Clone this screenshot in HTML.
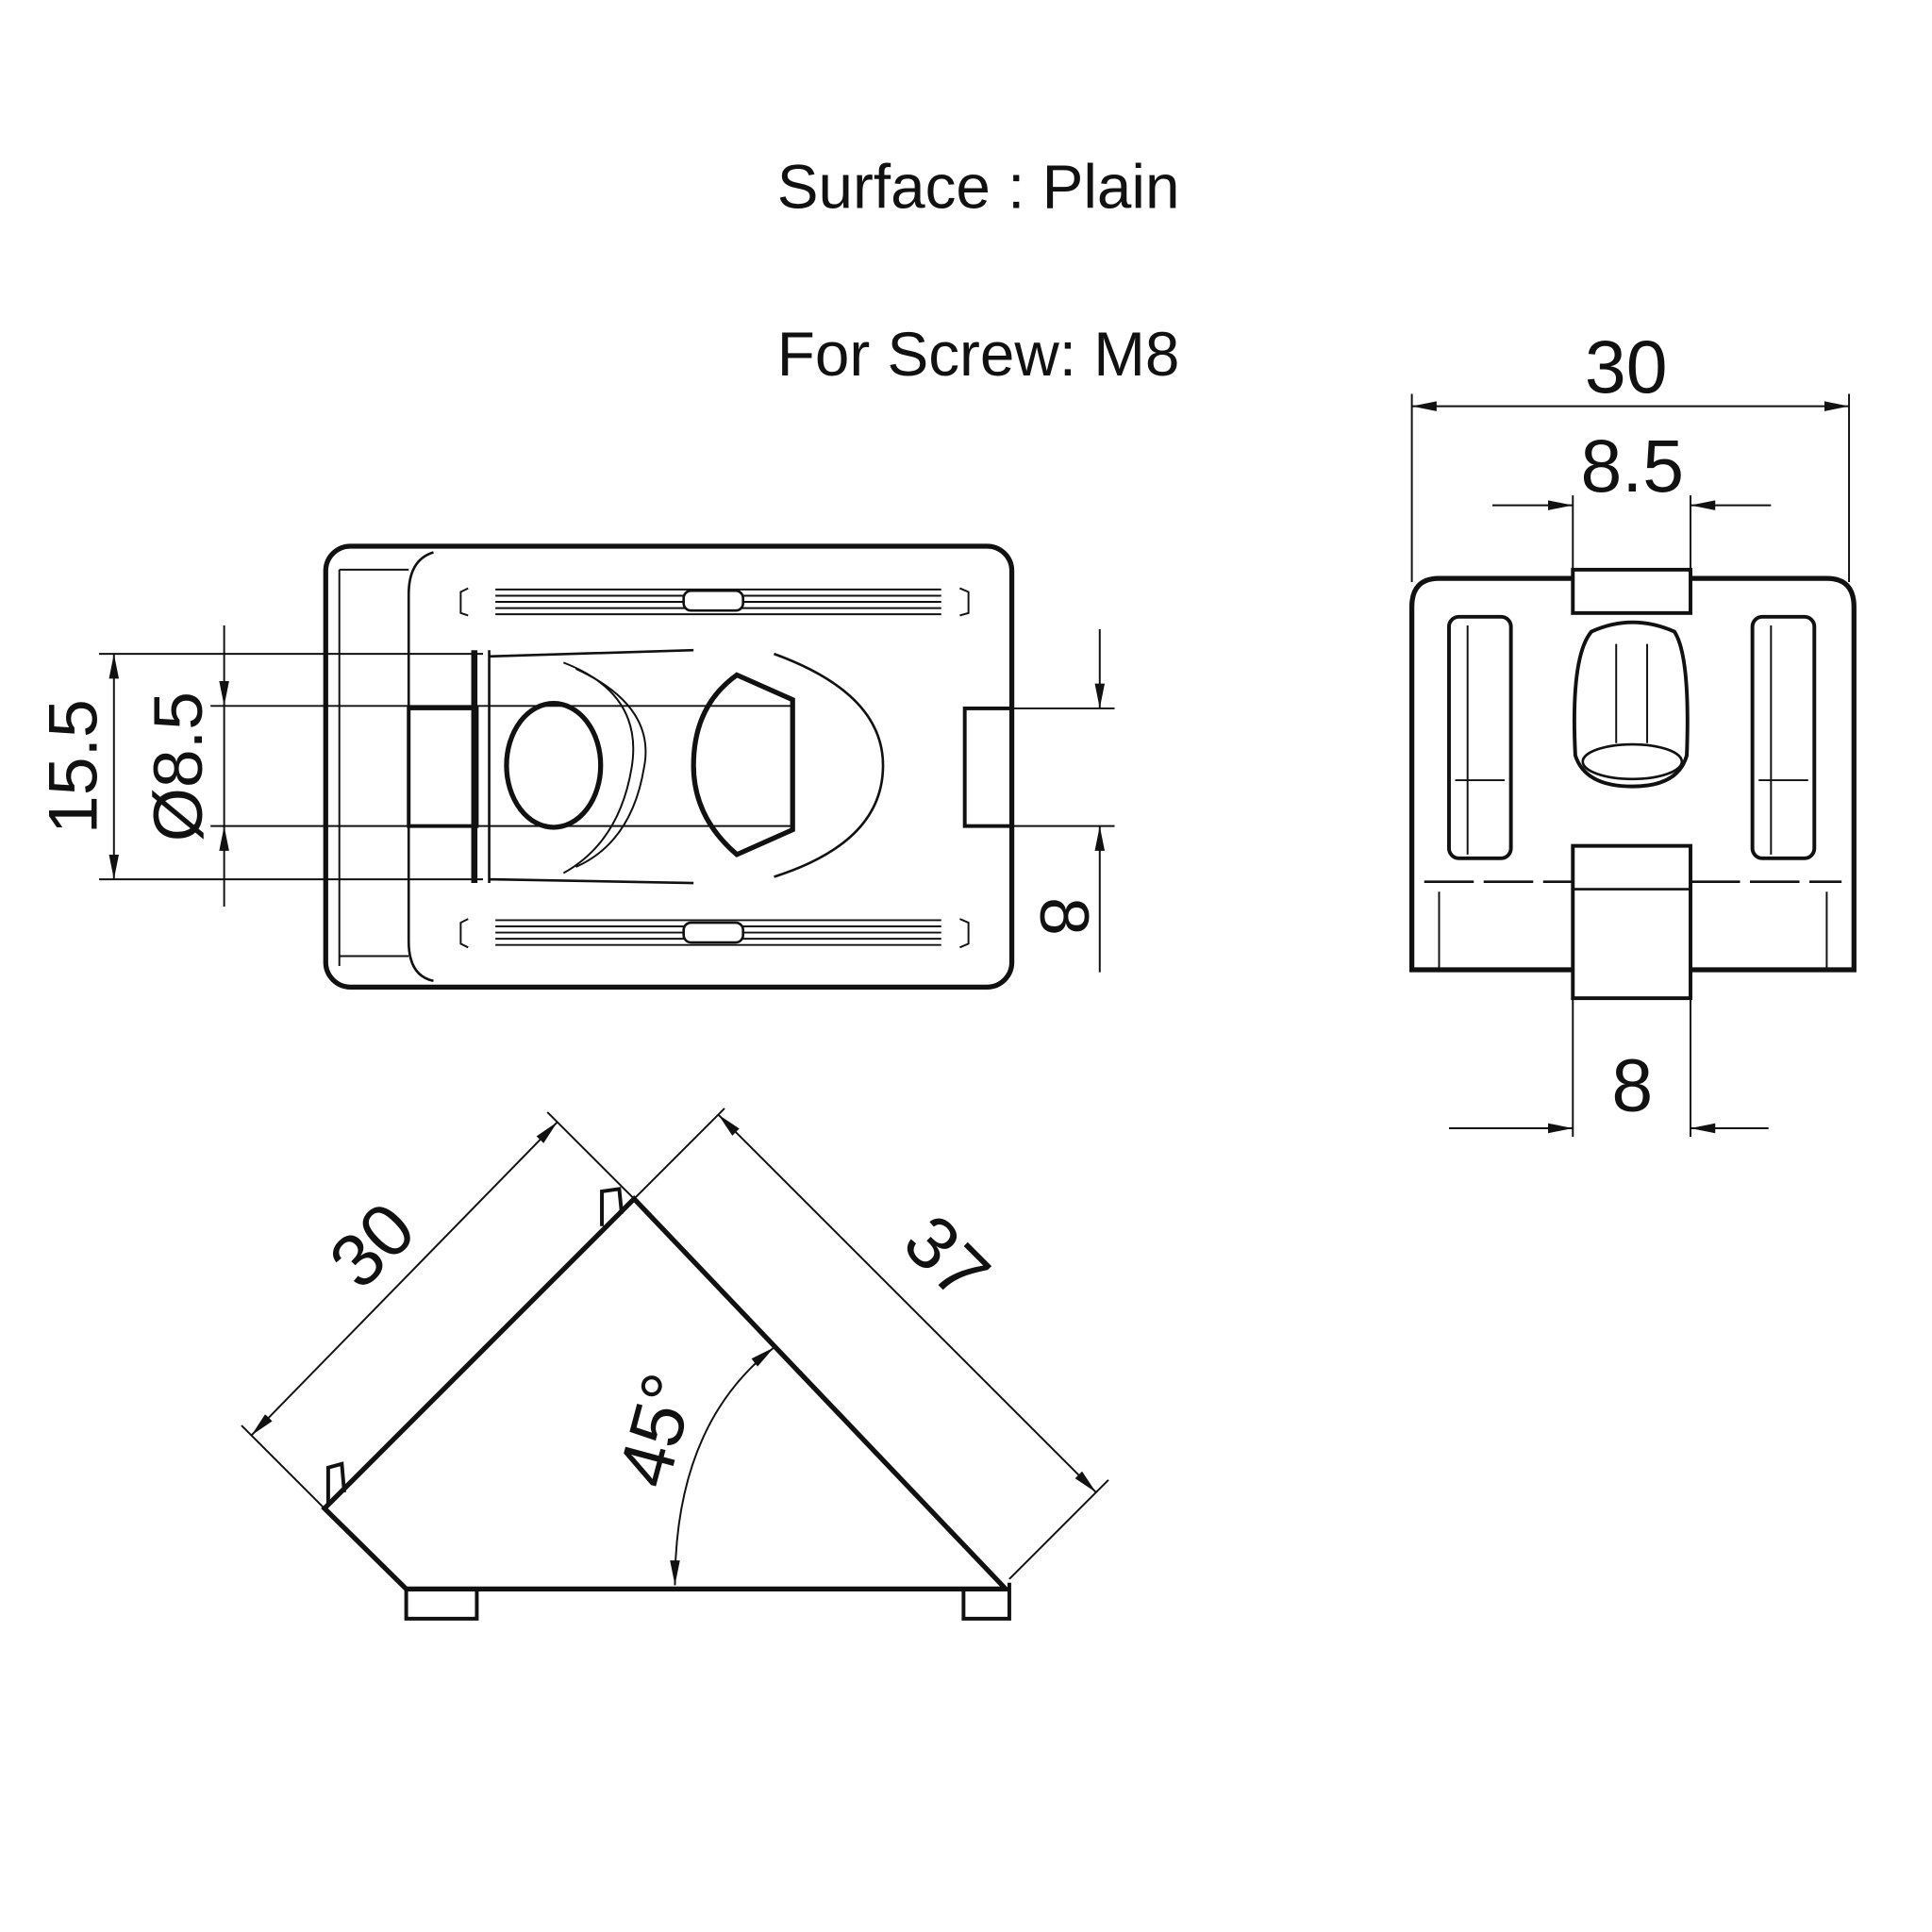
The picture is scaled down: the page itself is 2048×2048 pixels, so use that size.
<!DOCTYPE html>
<html><head><meta charset="utf-8"><style>
html,body{margin:0;padding:0;background:#fff}
svg{display:block}
text{font-family:"Liberation Sans",sans-serif;fill:#111}
</style></head><body>
<svg width="2048" height="2048" viewBox="0 0 1560 1560" xmlns="http://www.w3.org/2000/svg">
<defs>
<marker id="a" viewBox="0 0 20 10" refX="20" refY="5" markerWidth="20" markerHeight="10" markerUnits="userSpaceOnUse" orient="auto-start-reverse"><path d="M0,1 L20,5 L0,9 z" fill="#111"/></marker>
</defs>
<text x="790" y="168" font-size="50" text-anchor="middle">Surface : Plain</text>
<text x="790" y="303" font-size="50" text-anchor="middle">For Screw: M8</text>

<g fill="none" stroke="#111">
<!-- top view -->
<rect x="263" y="441" width="554" height="356" rx="20" stroke-width="4"/>
<path d="M350,446 Q330,452 330,480 L330,760 Q330,788 350,792" stroke-width="2"/>
<line x1="274" y1="460" x2="274" y2="780" stroke-width="1.5"/>
<line x1="274" y1="460" x2="330" y2="460" stroke-width="1.5"/>
<line x1="274" y1="772" x2="330" y2="772" stroke-width="1.5"/>
<rect x="330" y="572" width="55" height="95" stroke-width="3"/>
<line x1="383" y1="525" x2="383" y2="713" stroke-width="5"/>
<rect x="779" y="572" width="38" height="95" stroke-width="3"/>
<ellipse cx="447" cy="618" rx="38" ry="50" stroke-width="4"/>
<path d="M455,535 Q520,560 510,620 Q500,680 455,705" stroke-width="1.5"/>
<path d="M465,540 Q530,570 520,620 Q510,680 465,700" stroke-width="1.5"/>
<path d="M595,545 L640,565 L640,670 L595,690 Q560,660 560,618 Q560,570 595,545 Z" stroke-width="4"/>
<path d="M625,528 Q713,560 713,618 Q713,680 625,708" stroke-width="2"/>
<path d="M395,530 L560,525 M395,710 L560,713 M395,525 L395,713" stroke-width="2"/>
<!-- slots -->
<g stroke-width="1.5">
<path d="M378,475 L372,478 L372,495 L378,497 M775,475 L782,478 L782,495 L775,497"/>
<path d="M378,742 L372,745 L372,762 L378,765 M775,742 L782,745 L782,762 L775,765"/>
<path d="M400,476 L760,476 M400,481 L760,481 M400,486 L760,486 M400,491 L760,491 M400,496 L760,496"/>
<path d="M400,743 L760,743 M400,748 L760,748 M400,753 L760,753 M400,758 L760,758 M400,763 L760,763"/>
</g>
<rect x="552" y="477" width="48" height="16" rx="6" fill="#fff" stroke-width="2"/>
<rect x="552" y="745" width="48" height="16" rx="6" fill="#fff" stroke-width="2"/>
<!-- left dims -->
<g stroke-width="1.5">
<line x1="80" y1="528" x2="390" y2="528"/>
<line x1="80" y1="710" x2="390" y2="710"/>
<line x1="92" y1="528" x2="92" y2="710" marker-start="url(#a)" marker-end="url(#a)"/>
<line x1="170" y1="570" x2="640" y2="570"/>
<line x1="170" y1="667" x2="640" y2="667"/>
<line x1="181" y1="505" x2="181" y2="570" marker-end="url(#a)"/>
<line x1="181" y1="732" x2="181" y2="667" marker-end="url(#a)"/>
<line x1="181" y1="570" x2="181" y2="667"/>
<line x1="817" y1="572" x2="900" y2="572"/>
<line x1="817" y1="667" x2="900" y2="667"/>
<line x1="888" y1="508" x2="888" y2="572" marker-end="url(#a)"/>
<line x1="888" y1="785" x2="888" y2="667" marker-end="url(#a)"/>
</g>
</g>
<text transform="translate(78,619) rotate(-90)" font-size="56" text-anchor="middle">15.5</text>
<text transform="translate(163,619) rotate(-90)" font-size="56" text-anchor="middle">Ø8.5</text>
<text transform="translate(840,740) rotate(90)" font-size="56" text-anchor="middle">8</text>

<!-- right view -->
<g fill="none" stroke="#111">
<path d="M1140,783 L1140,490 Q1140,467 1162,467 L1475,467 Q1497,467 1497,490 L1497,783 Z" stroke-width="4"/>
<rect x="1270" y="460" width="95" height="35" stroke-width="3" fill="#fff"/>
<rect x="1270" y="683" width="95" height="123" stroke-width="3" fill="#fff"/>
<line x1="1270" y1="718" x2="1365" y2="718" stroke-width="2"/>
<path d="M1150,712 L1270,712 M1365,712 L1487,712" stroke-width="2" stroke-dasharray="40,8"/>
<path d="M1162,720 L1162,783 M1475,720 L1475,783" stroke-width="1.5"/>
<rect x="1170" y="498" width="50" height="195" rx="8" stroke-width="3"/>
<rect x="1415" y="498" width="50" height="195" rx="8" stroke-width="3"/>
<path d="M1175,630 L1215,630 M1420,630 L1460,630 M1185,505 L1185,690 M1430,505 L1430,690" stroke-width="1.5"/>
<path d="M1285,510 Q1318,495 1352,510 Q1365,530 1362,610 Q1355,635 1318,635 Q1280,635 1272,610 Q1268,530 1285,510 Z" stroke-width="3"/>
<ellipse cx="1318" cy="615" rx="40" ry="14" stroke-width="2"/>
<path d="M1305,520 L1305,600 M1330,520 L1330,600" stroke-width="1.5"/>
<g stroke-width="1.5">
<line x1="1140" y1="318" x2="1140" y2="470"/>
<line x1="1493" y1="318" x2="1493" y2="470"/>
<line x1="1140" y1="328" x2="1493" y2="328" marker-start="url(#a)" marker-end="url(#a)"/>
<line x1="1270" y1="400" x2="1270" y2="462"/>
<line x1="1365" y1="400" x2="1365" y2="462"/>
<line x1="1205" y1="408" x2="1270" y2="408" marker-end="url(#a)"/>
<line x1="1430" y1="408" x2="1365" y2="408" marker-end="url(#a)"/>
<line x1="1270" y1="806" x2="1270" y2="918"/>
<line x1="1365" y1="806" x2="1365" y2="918"/>
<line x1="1170" y1="911" x2="1270" y2="911" marker-end="url(#a)"/>
<line x1="1428" y1="911" x2="1365" y2="911" marker-end="url(#a)"/>
</g>
</g>
<text x="1313" y="317" font-size="60" text-anchor="middle">30</text>
<text x="1318" y="397" font-size="60" text-anchor="middle">8.5</text>
<text x="1318" y="897" font-size="60" text-anchor="middle">8</text>

<!-- triangle view -->
<g fill="none" stroke="#111">
<path d="M512,968 L262,1218 L328,1283 L812,1283 Z" stroke-width="4"/>
<path d="M328,1283 L328,1307 L385,1307 L385,1283 M778,1283 L778,1307 L815,1307 L815,1278" stroke-width="3"/>
<path d="M265,1215 L265,1185 L276,1182 L278,1205" stroke-width="3"/>
<path d="M486,990 L486,962 L500,960 L502,980" stroke-width="3"/>
<g stroke-width="1.5">
<line x1="262" y1="1218" x2="195" y2="1151"/>
<line x1="512" y1="968" x2="442" y2="898"/>
<line x1="203" y1="1159" x2="450" y2="906" marker-start="url(#a)" marker-end="url(#a)"/>
<line x1="512" y1="968" x2="585" y2="895"/>
<line x1="815" y1="1275" x2="895" y2="1195"/>
<line x1="580" y1="900" x2="885" y2="1205" marker-start="url(#a)" marker-end="url(#a)"/>
<path d="M545,1280 Q545,1150 625,1088" marker-start="url(#a)" marker-end="url(#a)"/>
</g>
</g>
<text transform="translate(315,1020) rotate(-45)" font-size="60" text-anchor="middle">30</text>
<text transform="translate(750,1030) rotate(45)" font-size="60" text-anchor="middle">37</text>
<text transform="translate(550,1160) rotate(-75)" font-size="60" text-anchor="middle">45°</text>
</svg>
</body></html>
